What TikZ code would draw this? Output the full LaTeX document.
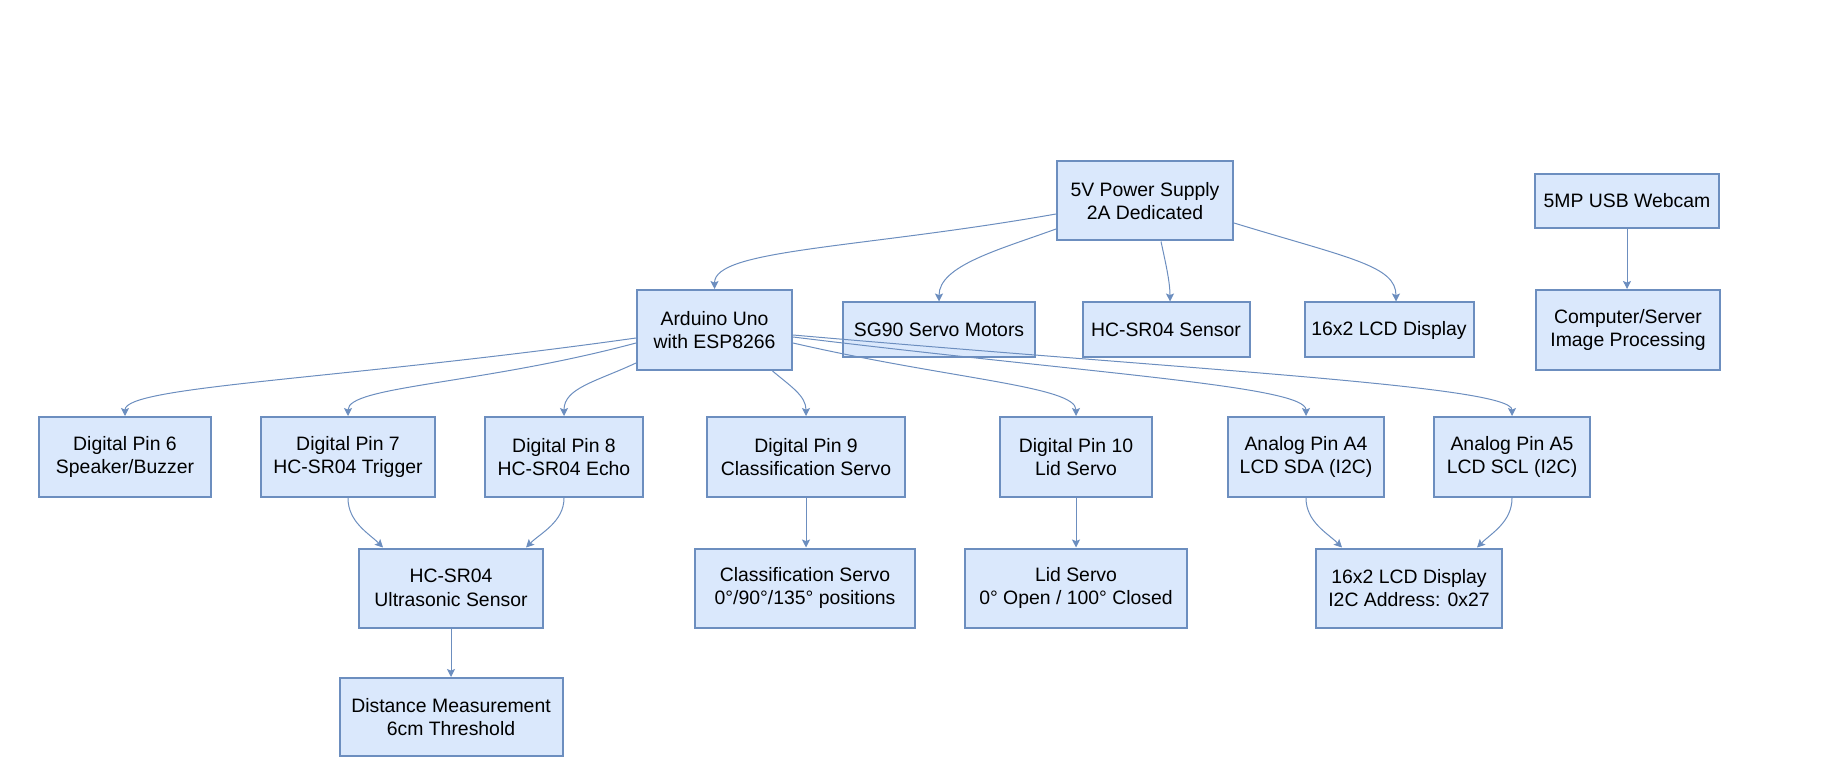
\documentclass[tikz,border=0pt]{standalone}
\usepackage{fontspec}
\setmainfont{Liberation Sans}
\usetikzlibrary{arrows.meta}
\definecolor{boxfill}{HTML}{DAE8FC}
\definecolor{boxdraw}{HTML}{6C8EBF}
\tikzset{
  box/.style={draw=boxdraw, fill=boxfill, line width=1pt, align=center, inner sep=0pt,
    font=\fontsize{9.7pt}{11.75pt}\selectfont},
  conn/.style={draw=boxdraw, line width=0.5pt, -{Stealth[length=4pt,width=4pt,inset=0.8pt]}}
}
\begin{document}
\begin{tikzpicture}[x=0.5pt,y=-0.5pt]
\useasboundingbox (0,0) rectangle (1824,764);
% row 1
\node[box, minimum width=88pt, minimum height=39.5pt] (ps) at (1145,201) {5V Power Supply\\2A Dedicated};
\node[box, minimum width=92pt, minimum height=27pt] (cam) at (1627,201) {5MP USB Webcam};
% row 2
\node[box, minimum width=77.5pt, minimum height=40pt] (ard) at (714.5,330) {Arduino Uno\\with ESP8266};
\node[box, minimum width=96pt, minimum height=27.5pt] (sg) at (939,330) {SG90 Servo Motors};
\node[box, minimum width=83.5pt, minimum height=27.5pt] (hc) at (1166,330) {HC-SR04 Sensor};
\node[box, minimum width=84.5pt, minimum height=27.5pt] (lcd) at (1389,330) {16x2 LCD Display};
\node[box, minimum width=92pt, minimum height=40pt] (comp) at (1628,330) {Computer/Server\\Image Processing};
% row 3
\node[box, minimum width=86pt, minimum height=40pt] (p6) at (125,457) {Digital Pin 6\\Speaker/Buzzer};
\node[box, minimum width=87pt, minimum height=40pt] (p7) at (348,457) {Digital Pin 7\\HC-SR04 Trigger};
\node[box, minimum width=79pt, minimum height=40pt] (p8) at (564,457) {Digital Pin 8\\HC-SR04 Echo};
\node[box, minimum width=99pt, minimum height=40pt] (p9) at (806,457) {Digital Pin 9\\Classification Servo};
\node[box, minimum width=76pt, minimum height=40pt] (p10) at (1076,457) {Digital Pin 10\\Lid Servo};
\node[box, minimum width=78pt, minimum height=40pt] (a4) at (1306,457) {Analog Pin A4\\LCD SDA (I2C)};
\node[box, minimum width=78pt, minimum height=40pt] (a5) at (1512,457) {Analog Pin A5\\LCD SCL (I2C)};
% row 4
\node[box, minimum width=92pt, minimum height=39.5pt] (hcsr) at (451,588) {HC-SR04\\Ultrasonic Sensor};
\node[box, minimum width=110pt, minimum height=39.5pt] (cls) at (805,588) {Classification Servo\\0°/90°/135° positions};
\node[box, minimum width=111pt, minimum height=39.5pt] (lid) at (1076,588) {Lid Servo\\0° Open / 100° Closed};
\node[box, minimum width=93pt, minimum height=39.5pt] (lcd2) at (1409,588) {16x2 LCD Display\\I2C Address: 0x27};
% row 5
\node[box, minimum width=111.5pt, minimum height=39pt] (dist) at (451,717) {Distance Measurement\\6cm Threshold};

% power supply edges
\draw[conn] ([yshift=-6.5pt]ps.west) to[out=190,in=90,out distance=100pt,in distance=20pt] (ard.north);
\draw[conn] ([yshift=-14pt]ps.west) to[out=200,in=90,out distance=30pt,in distance=18pt] (sg.north);
\draw[conn] ([xshift=8pt]ps.south) to[out=-78,in=90,out distance=10pt,in distance=10pt] ([xshift=2pt]hc.north);
\draw[conn] ([yshift=-11pt]ps.east) to[out=-17,in=90,out distance=60pt,in distance=18pt] ([xshift=3.5pt]lcd.north);
% webcam
\draw[conn] (cam.south) -- (cam.south |- comp.north);
% arduino edges
\draw[conn] ([yshift=-4pt]ard.west) to[out=188,in=90,out distance=150pt,in distance=15pt] (p6.north);
\draw[conn] ([yshift=-6.5pt]ard.west) to[out=195,in=90,out distance=80pt,in distance=15pt] (p7.north);
\draw[conn] ([yshift=-16.5pt]ard.west) to[out=205,in=90,out distance=22pt,in distance=14pt] (p8.north);
\draw[conn] ([xshift=29pt]ard.south) to[out=-40,in=90,out distance=12pt,in distance=10pt] (p9.north);
\draw[conn] ([yshift=-6.5pt]ard.east) to[out=-13,in=90,out distance=80pt,in distance=15pt] (p10.north);
\draw[conn] ([yshift=-3.5pt]ard.east) to[out=-7,in=90,out distance=150pt,in distance=15pt] (a4.north);
\draw[conn] ([yshift=-2.5pt]ard.east) to[out=-5,in=90,out distance=200pt,in distance=15pt] (a5.north);
% row 3 to row 4
\draw[conn] (p7.south) to[out=-90,in=135,out distance=12pt,in distance=10pt] ([xshift=-34pt]hcsr.north);
\draw[conn] (p8.south) to[out=-90,in=45,out distance=12pt,in distance=10pt] ([xshift=37.5pt]hcsr.north);
\draw[conn] (p9.south) -- (p9.south |- cls.north);
\draw[conn] (p10.south) -- (p10.south |- lid.north);
\draw[conn] (a4.south) to[out=-90,in=135,out distance=12pt,in distance=10pt] ([xshift=-33.5pt]lcd2.north);
\draw[conn] (a5.south) to[out=-90,in=45,out distance=12pt,in distance=10pt] ([xshift=34pt]lcd2.north);
\draw[conn] (hcsr.south) -- (dist.north);
\end{tikzpicture}
\end{document}
